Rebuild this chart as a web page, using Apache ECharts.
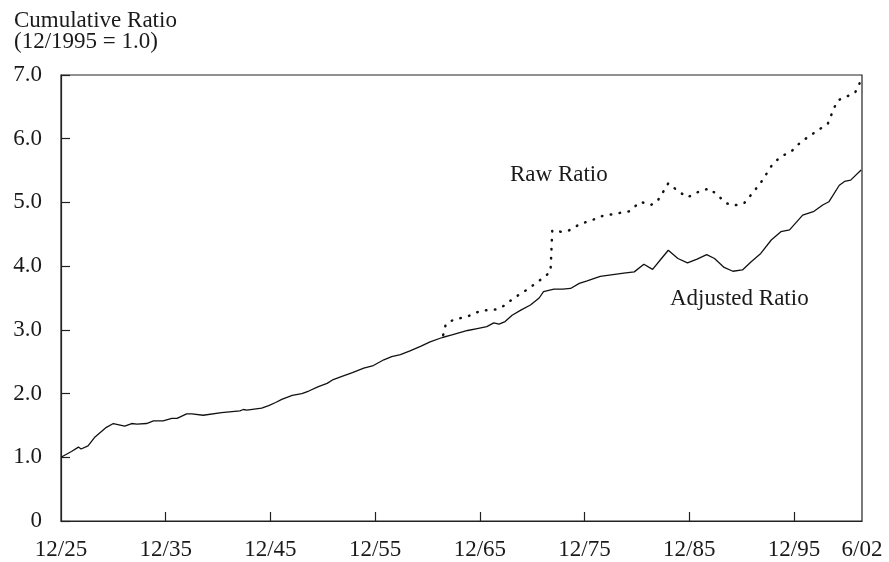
<!DOCTYPE html>
<html>
<head>
<meta charset="utf-8">
<script src="https://cdn.jsdelivr.net/npm/echarts@6/dist/echarts.min.js"></script>
<style>
html,body{margin:0;padding:0;background:#fff;}
#chart{width:889px;height:562px;}
</style>
</head>
<body>
<div id="chart"></div>
<script>
// x values are months since 12/1925
var tickMonths = [0, 120, 240, 360, 480, 600, 720, 840, 918];
var tickLabels = ['12/25', '12/35', '12/45', '12/55', '12/65', '12/75', '12/85', '12/95', '6/02'];

var adjMonths = [0,12,20,23,31,39,52,60,73,81,87,98,106,117,127,133,144,150,163,184,205,209,213,230,238,246,253,265,276,284,295,305,312,322,334,347,358,370,379,389,400,412,423,437,448,466,477,488,496,502,509,517,527,538,548,553,565,575,584,594,603,618,645,657,668,678,687,696,707,718,729,740,749,760,770,781,791,802,814,825,835,850,863,873,880,892,898,905,917];
var adjValues = [1.00,1.09,1.16,1.13,1.18,1.32,1.47,1.53,1.49,1.53,1.52,1.53,1.57,1.57,1.61,1.61,1.68,1.68,1.66,1.70,1.73,1.75,1.74,1.77,1.81,1.86,1.91,1.97,2.00,2.04,2.11,2.16,2.22,2.27,2.33,2.40,2.44,2.53,2.58,2.61,2.67,2.74,2.81,2.88,2.92,2.99,3.02,3.05,3.11,3.09,3.13,3.23,3.31,3.39,3.50,3.60,3.64,3.64,3.65,3.73,3.77,3.84,3.89,3.91,4.03,3.95,4.10,4.25,4.12,4.05,4.11,4.18,4.12,3.98,3.92,3.94,4.07,4.20,4.41,4.54,4.57,4.80,4.86,4.96,5.01,5.27,5.33,5.35,5.51];

var rawMonths = [438,441,450,466,481,498,508,519,534,548,561,563,573,582,596,607,618,634,651,664,676,683,689,696,708,718,731,743,752,762,771,783,794,804,815,825,837,848,863,879,885,890,900,910,917];
var rawValues = [2.92,3.09,3.16,3.21,3.30,3.32,3.38,3.50,3.63,3.77,3.91,4.56,4.54,4.56,4.67,4.71,4.78,4.82,4.86,5.01,4.96,5.01,5.14,5.30,5.17,5.08,5.17,5.22,5.12,4.99,4.95,4.99,5.17,5.35,5.59,5.72,5.80,5.95,6.09,6.24,6.45,6.60,6.66,6.72,6.92];

var yTicks = [0, 1, 2, 3, 4, 5, 6, 7];
var yTickLabels = ['0', '1.0', '2.0', '3.0', '4.0', '5.0', '6.0', '7.0'];

var titleLines = ['Cumulative Ratio', '(12/1995 = 1.0)'];
var seriesNames = ['Adjusted Ratio', 'Raw Ratio'];

function zip(a, b) { return a.map(function (v, i) { return [v, b[i]]; }); }

var FONT = '"Liberation Serif", "DejaVu Serif", serif';
var INK = '#1a1a1a';

var chart = echarts.init(document.getElementById('chart'), null, { renderer: 'canvas' });
chart.setOption({
  animation: false,
  backgroundColor: '#ffffff',
  title: {
    text: titleLines.join('\n'),
    left: 9,
    top: 5,
    textStyle: { fontFamily: FONT, fontSize: 23, fontWeight: 'normal', color: INK, lineHeight: 21 }
  },
  grid: {
    left: 61, right: 27, top: 75, bottom: 41,
    show: true, borderColor: '#222', borderWidth: 1.2, backgroundColor: 'transparent'
  },
  xAxis: {
    type: 'value',
    min: 0, max: 918,
    splitLine: { show: false },
    axisLine: { show: true, lineStyle: { color: '#222', width: 1.2 } },
    axisTick: {
      show: true, inside: true, length: 9,
      customValues: tickMonths.slice(1, -1),
      lineStyle: { color: '#222', width: 1.2 }
    },
    axisLabel: {
      customValues: tickMonths,
      formatter: function (v) { var i = tickMonths.indexOf(v); return i >= 0 ? tickLabels[i] : ''; },
      fontFamily: FONT, fontSize: 23, color: INK, margin: 17
    }
  },
  yAxis: {
    type: 'value',
    min: 0, max: 7, interval: 1,
    splitLine: { show: false },
    axisLine: { show: true, lineStyle: { color: '#222', width: 1.2 } },
    axisTick: { show: true, inside: true, length: 9, lineStyle: { color: '#222', width: 1.2 } },
    axisLabel: {
      formatter: function (v) { var i = yTicks.indexOf(v); return i >= 0 ? yTickLabels[i] : ''; },
      fontFamily: FONT, fontSize: 23, color: INK, margin: 19
    }
  },
  graphic: [
    { type: 'text', left: 510, top: 163, style: { text: seriesNames[1], font: '23px ' + FONT, fill: INK } },
    { type: 'text', left: 670, top: 287, style: { text: seriesNames[0], font: '23px ' + FONT, fill: INK } }
  ],
  series: [
    {
      name: seriesNames[0], type: 'line', data: zip(adjMonths, adjValues),
      showSymbol: false, symbol: 'none', smooth: false,
      lineStyle: { color: '#111', width: 1.3 }
    },
    {
      name: seriesNames[1], type: 'line', data: zip(rawMonths, rawValues),
      showSymbol: false, symbol: 'none', smooth: false,
      lineStyle: { color: '#111', width: 2.5, type: [0.5, 8.5], cap: 'round' }
    }
  ]
});
</script>
</body>
</html>
